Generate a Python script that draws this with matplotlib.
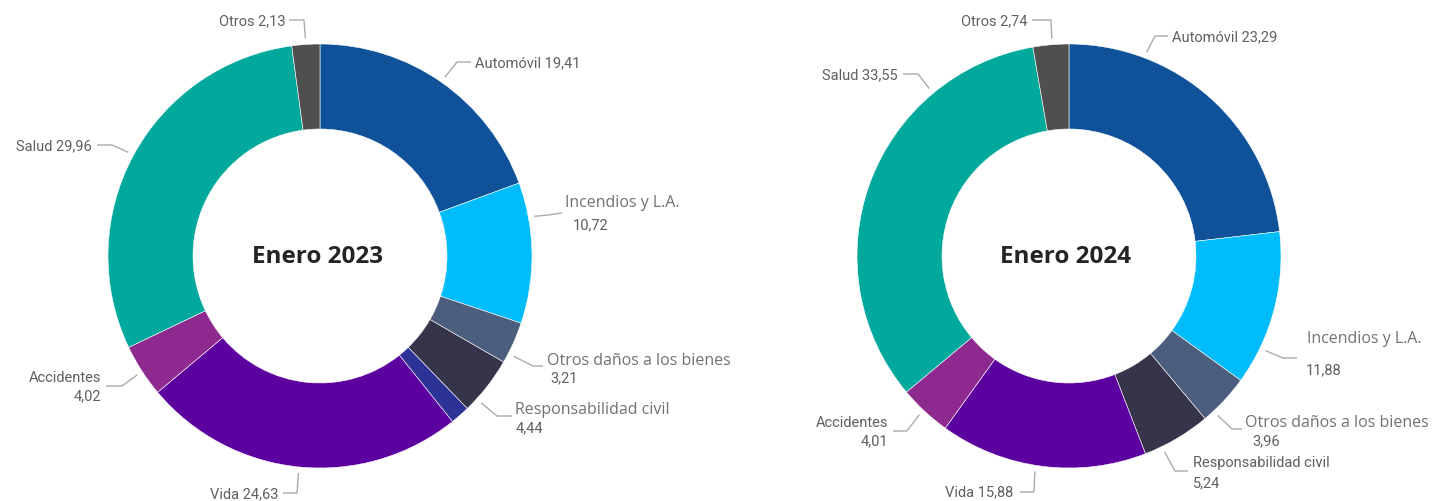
import numpy as np
import matplotlib
matplotlib.use("Agg")
import matplotlib.pyplot as plt

# ---------------- data ----------------
categories = ["Automóvil", "Incendios y L.A.", "Otros daños a los bienes",
              "Responsabilidad civil", "Sin etiqueta", "Vida", "Accidentes",
              "Salud", "Otros"]
values_2023 = [19.41, 10.72, 3.21, 4.44, 1.48, 24.63, 4.02, 29.96, 2.13]
values_2024 = [23.29, 11.88, 3.96, 5.24, 0.00, 15.88, 4.01, 33.55, 2.74]
titles = ["Enero 2023", "Enero 2024"]

colors = {
    "Automóvil": "#0F5299",
    "Incendios y L.A.": "#01BCFB",
    "Otros daños a los bienes": "#4B5E7E",
    "Responsabilidad civil": "#35344A",
    "Sin etiqueta": "#2D3396",
    "Vida": "#5C00A0",
    "Accidentes": "#8E2990",
    "Salud": "#00A99C",
    "Otros": "#4F4F4F",
}

# ---------------- layout (pixel-like coords, y measured from top) ----------------
W, H = 1433, 502
centers = [(320, 257), (1069, 257)]
R_OUT, RING = 212, 85

DIN = dict(family=["Roboto", "DejaVu Sans"], color="#5f5f5f", size=10.5)
SEG = dict(family=["Open Sans", "DejaVu Sans"], color="#727272", size=11.5)

# label layout: cat -> (fraction along wedge, elbow, line end, [(kind, text_type, x, y, ha)])
# text_type: 'full' = "name value", 'name', 'value'
layouts = [
    {
        "Otros": (0.5, (304, 21), (289, 21), [("din", "full", 286, 21, "right")]),
        "Automóvil": (0.5, (457, 63), (471, 63), [("din", "full", 475, 63, "left")]),
        "Incendios y L.A.": (0.25, (548, 216), (562, 214),
                             [("seg", "name", 565, 203, "left"), ("din", "value", 573, 225, "left")]),
        "Otros daños a los bienes": (0.77, (533, 367), (543, 367),
                                     [("seg", "name", 547, 361, "left"), ("din", "value", 550, 378, "left")]),
        "Responsabilidad civil": (0.77, (497, 417), (512, 417),
                                  [("seg", "name", 515, 410, "left"), ("din", "value", 516, 428, "left")]),
        "Vida": (0.5, (297, 494), (283, 494), [("din", "full", 279, 494, "right")]),
        "Accidentes": (0.48, (122, 387), (106, 387),
                       [("din", "name", 101, 378, "right"), ("din", "value", 101, 396, "right")]),
        "Salud": (0.5, (112, 146), (97, 146), [("din", "full", 92, 146, "right")]),
    },
    {
        "Otros": (0.54, (1051, 21), (1032, 21), [("din", "full", 1028, 21, "right")]),
        "Automóvil": (0.25, (1155, 37), (1168, 37), [("din", "full", 1172, 37, "left")]),
        "Salud": (0.75, (918, 75), (903, 75), [("din", "full", 898, 75, "right")]),
        "Incendios y L.A.": (0.76, (1283, 359), (1297, 359),
                             [("seg", "name", 1307, 339, "left"), ("din", "value", 1306, 370, "left")]),
        "Otros daños a los bienes": (0.78, (1232, 430), (1242, 430),
                                     [("seg", "name", 1245, 423, "left"), ("din", "value", 1252, 441, "left")]),
        "Responsabilidad civil": (0.74, (1175, 472), (1188, 472),
                                  [("din", "name", 1193, 463, "left"), ("din", "value", 1193, 483, "left")]),
        "Vida": (0.53, (1034, 493), (1020, 493), [("din", "full", 1013, 492, "right")]),
        "Accidentes": (0.53, (907, 432), (893, 432),
                       [("din", "name", 888, 423, "right"), ("din", "value", 888, 441, "right")]),
    },
]


def fmt(v):
    return f"{v:.2f}".replace(".", ",")


fig = plt.figure(figsize=(W / 100, H / 100), dpi=100)
ax = fig.add_axes([0, 0, 1, 1])

for values, (cx, cy_top), title, layout in zip([values_2023, values_2024], centers, titles, layouts):
    cy = H - cy_top
    cats = [c for c, v in zip(categories, values) if v > 0]
    vals = [v for v in values if v > 0]
    wedges, _ = ax.pie(vals, colors=[colors[c] for c in cats], startangle=90,
                       counterclock=False, radius=R_OUT, center=(cx, cy),
                       wedgeprops=dict(width=RING, edgecolor="white", linewidth=0.4))
    ax.text(cx - 3, cy, title, ha="center", va="center", fontsize=17.5,
            fontweight="bold", color="#252423", family=["Open Sans", "DejaVu Sans"])
    for cat, val, w in zip(cats, vals, wedges):
        if cat not in layout:
            continue
        frac, elbow, lend, texts = layout[cat]
        ang = np.deg2rad(w.theta2 - frac * (w.theta2 - w.theta1))
        ax_x = cx + (R_OUT + 6) * np.cos(ang)
        ax_y = cy + (R_OUT + 6) * np.sin(ang)
        xs = [ax_x, elbow[0], lend[0]]
        ys = [ax_y, H - elbow[1], H - lend[1]]
        ax.plot(xs, ys, color="#ababab", lw=1.0, solid_capstyle="butt")
        for kind, ttype, tx, ty, ha in texts:
            s = {"full": f"{cat} {fmt(val)}", "name": cat, "value": fmt(val)}[ttype]
            style = DIN if kind == "din" else SEG
            ax.text(tx, H - ty, s, ha=ha, va="center", **style)

ax.set_xlim(0, W)
ax.set_ylim(0, H)
ax.set_aspect("equal")
ax.axis("off")
fig.savefig("out.png", dpi=100, facecolor="white")
